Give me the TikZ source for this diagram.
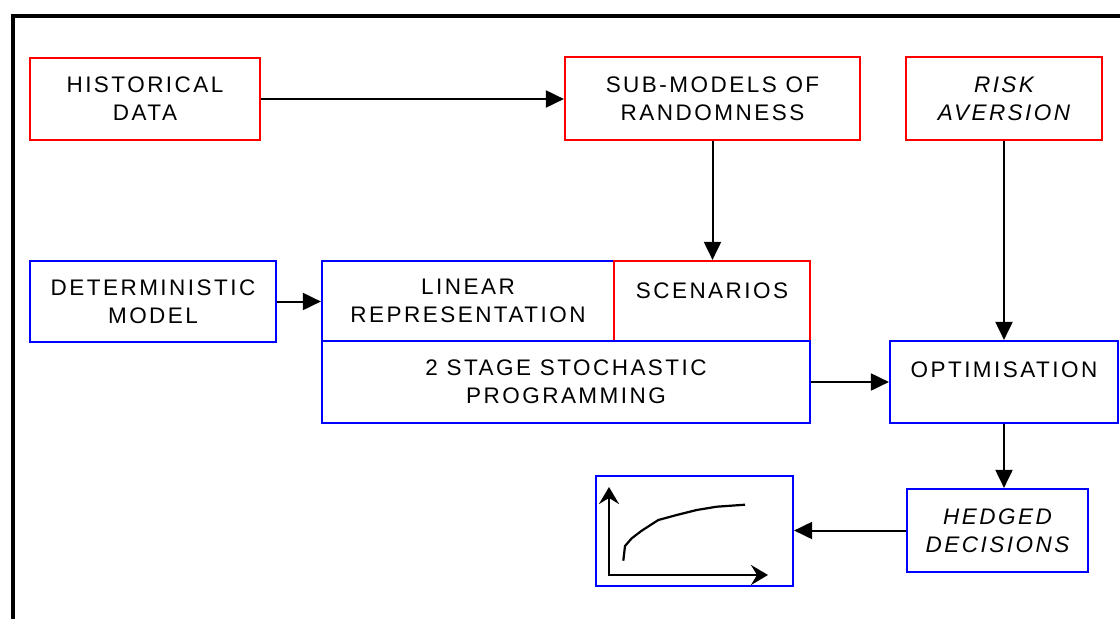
\documentclass[tikz,border=0pt]{standalone}
\usepackage{fontspec}
\setmainfont{Liberation Sans}[LetterSpace=11]
\usetikzlibrary{arrows.meta}
\begin{document}
\begin{tikzpicture}[x=1pt,y=-1pt,
  box/.style={draw=#1, line width=2.2pt, inner sep=0pt, align=center,
    font=\fontsize{22.5}{28}\selectfont},
  conn/.style={line width=2pt, -{Triangle[length=18pt,width=17pt]}},
  axis/.style={line width=2.4pt, {Stealth[length=17pt,width=20pt,inset=6pt]}-{Stealth[length=17pt,width=20pt,inset=6pt]}},
]
\useasboundingbox (0,0) rectangle (1120,619);
\draw[line width=3.5pt] (13,619) -- (13,16) -- (1121,16);

\node[box=red, minimum width=230pt, minimum height=82pt] (hist) at (145,99) {HISTORICAL\\DATA};
\node[box=red, minimum width=295pt, minimum height=83pt] (sub) at (712.5,98.5) {SUB-MODELS OF\\RANDOMNESS};
\node[box=red, minimum width=196pt, minimum height=83pt] (risk) at (1004,98.5) {\itshape RISK\\\itshape AVERSION};
\node[box=blue, minimum width=246pt, minimum height=81pt] (det) at (153,301.5) {DETERMINISTIC\\MODEL};
\node[box=blue, minimum width=292pt, minimum height=80pt] (lin) at (468,301) {LINEAR\\REPRESENTATION};
\node[box=red, minimum width=196pt, minimum height=80pt] (scen) at (712,301) {\raisebox{10pt}[\height][\depth]{SCENARIOS}};
\node[box=blue, minimum width=488pt, minimum height=82pt] (stage) at (566,382) {2 STAGE STOCHASTIC\\PROGRAMMING};
\node[box=blue, minimum width=228pt, minimum height=82pt] (opt) at (1004,382) {\raisebox{12pt}[\height][\depth]{OPTIMISATION}};
\node[box=blue, minimum width=181pt, minimum height=83pt] (hedg) at (997.5,530.5) {\itshape HEDGED\\\itshape DECISIONS};
\node[box=blue, minimum width=197pt, minimum height=110pt] (graph) at (694.5,531) {};

\draw[conn] (hist.east) -- (hist.east -| sub.west);
\draw[conn] (sub.south) -- (sub.south |- scen.north);
\draw[conn] (risk.south) -- (risk.south |- opt.north);
\draw[conn] (det.east) -- (det.east -| lin.west);
\draw[conn] (stage.east) -- (stage.east -| opt.west);
\draw[conn] (opt.south) -- (opt.south |- hedg.north);
\draw[conn] (hedg.west) -- (hedg.west -| graph.east);

\draw[axis] (609,487) -- (609,575) -- (768,575);
\draw[line width=2.2pt, line join=round] (623.3,560.7) -- (625,546) -- (631.7,538.3) -- (641.7,530.7) -- (658.3,520) -- (676.7,515) -- (696.7,510) -- (716.7,506.7) -- (745,504.7);
\end{tikzpicture}
\end{document}
